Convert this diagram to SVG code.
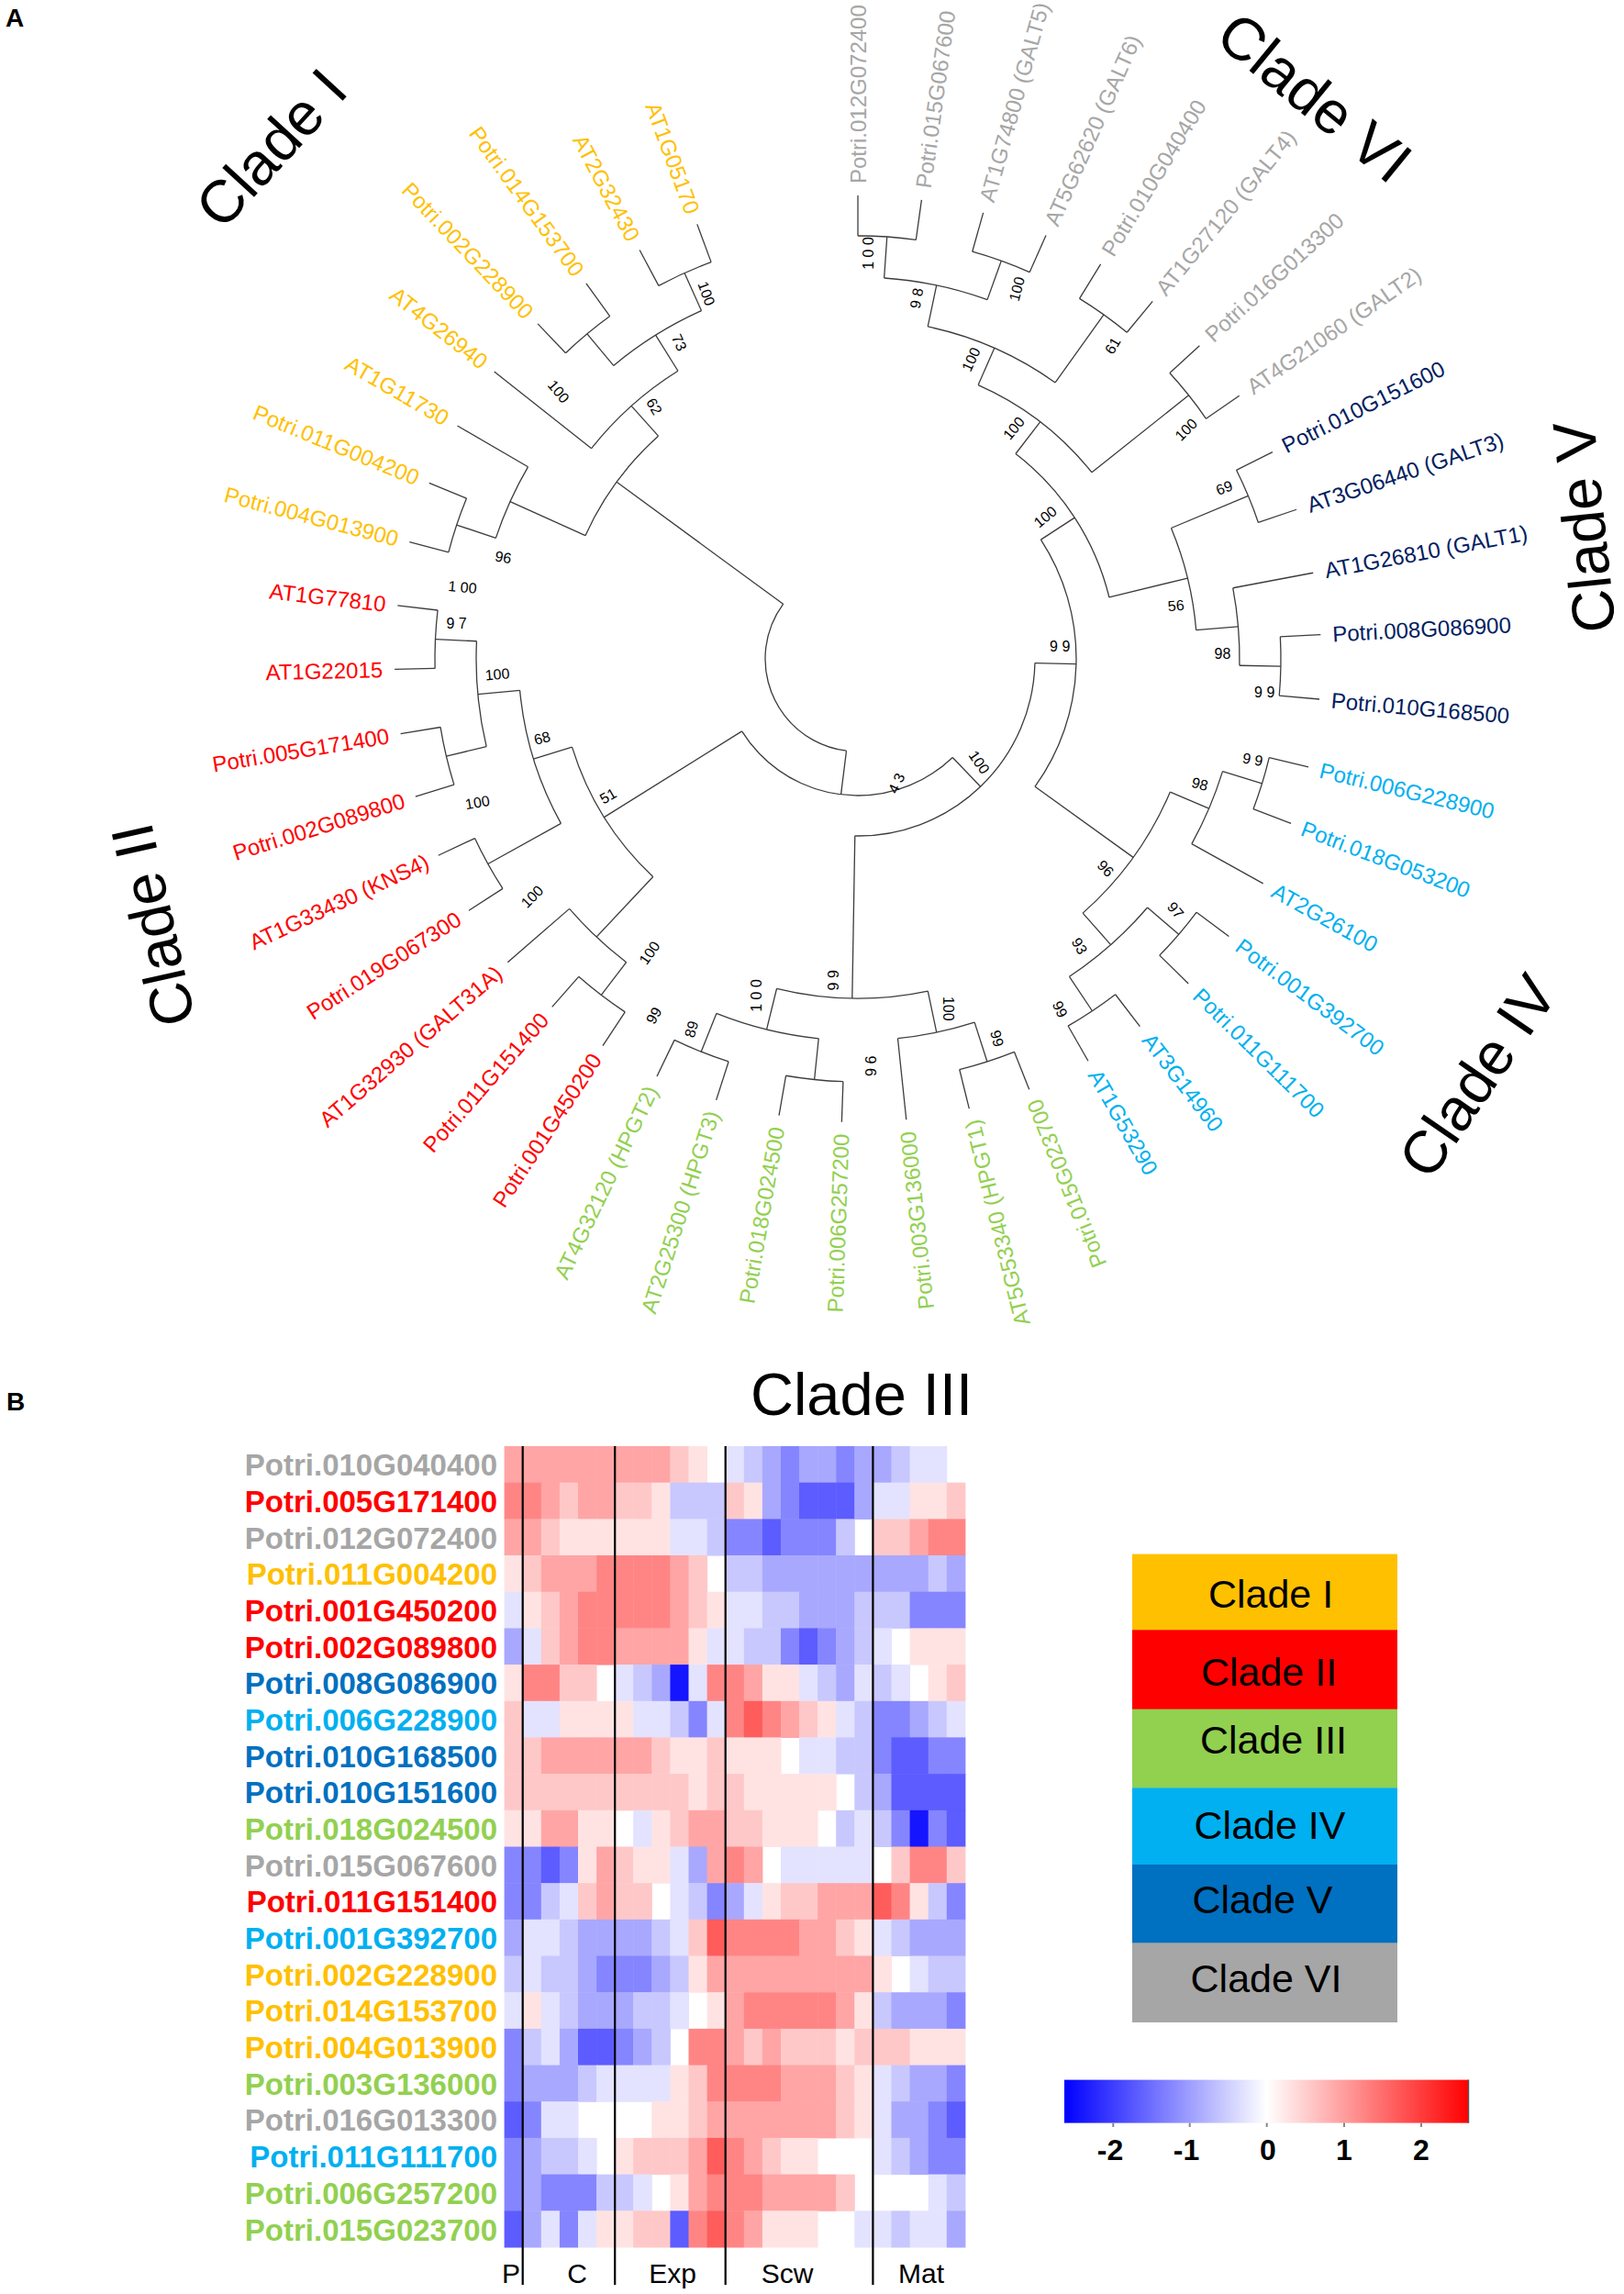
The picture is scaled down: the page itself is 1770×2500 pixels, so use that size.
<svg xmlns="http://www.w3.org/2000/svg" width="1770" height="2500" viewBox="0 0 1770 2500">
<style>
text{font-family:"Liberation Sans",Arial,sans-serif}
.br circle,.br line{fill:none;stroke:#3c3c3c;stroke-width:1.3}
.lf{font-size:24px;dominant-baseline:central}
.le{text-anchor:end}
.bs{font-size:16px;text-anchor:middle;dominant-baseline:central;fill:#000}
.cl{font-size:65px;text-anchor:middle;fill:#000}
.c6{fill:#a6a6a6}.c5{fill:#002060}.c4{fill:#00b0f0}.c3{fill:#92d050}.c2{fill:#ff0000}.c1{fill:#ffc000}.hb{fill:#0070c0}
.hm rect{width:20.6px;height:40.2px}
.p1{fill:#ffe3e3}.p2{fill:#ffc8c8}.p3{fill:#ffa5a5}.p4{fill:#ff8585}.p5{fill:#ff5c5c}
.q1{fill:#e3e3ff}.q2{fill:#c8c8ff}.q3{fill:#a8a8ff}.q4{fill:#8585ff}.q5{fill:#5c5cff}.q6{fill:#1515ff}
.rl{font-size:33px;font-weight:bold;text-anchor:end}
.sep{stroke:#000;stroke-width:2.2}
.gl{font-size:30px;text-anchor:middle}
.lg{font-size:43px;text-anchor:middle;fill:#000}
.tk{font-size:32px;font-weight:bold;text-anchor:middle}
.pl{font-size:28px;font-weight:bold}
</style>
<defs>
<linearGradient id="cbar" x1="0" y1="0" x2="1" y2="0">
<stop offset="0" stop-color="#0000ff"/><stop offset="0.5" stop-color="#ffffff"/><stop offset="1" stop-color="#ff0000"/>
</linearGradient>
</defs>
<rect width="1770" height="2500" fill="#ffffff"/>
<text class="pl" x="6" y="29">A</text>
<text class="pl" x="7" y="1537">B</text>

<g id="branches" class="br" transform="translate(935,718)">
<circle r="101" transform="rotate(97.1)" stroke-dasharray="210.0 4000"/>
<circle r="149" transform="rotate(46.16)" stroke-dasharray="264.9 4000"/>
<circle r="193" transform="rotate(1.35)" stroke-dasharray="301.9 4000"/>
<circle r="238" transform="rotate(-33.08)" stroke-dasharray="286.1 4000"/>
<circle r="282" transform="rotate(-52.42)" stroke-dasharray="190.3 4000"/>
<circle r="326" transform="rotate(-66.28)" stroke-dasharray="157.8 4000"/>
<circle r="370" transform="rotate(-78.11)" stroke-dasharray="152.8 4000"/>
<circle r="416" transform="rotate(-86.05)" stroke-dasharray="115.3 4000"/>
<circle r="461" transform="rotate(-90)" stroke-dasharray="63.6 4000"/>
<circle r="461" transform="rotate(-74.3)" stroke-dasharray="66.4 4000"/>
<circle r="461" transform="rotate(-58.4)" stroke-dasharray="63.6 4000"/>
<circle r="461" transform="rotate(-42.5)" stroke-dasharray="63.6 4000"/>
<circle r="370" transform="rotate(-22.65)" stroke-dasharray="115.0 4000"/>
<circle r="461" transform="rotate(-26.5)" stroke-dasharray="62.0 4000"/>
<circle r="416" transform="rotate(-10.7)" stroke-dasharray="85.0 4000"/>
<circle r="461" transform="rotate(-3)" stroke-dasharray="64.4 4000"/>
<circle r="370" transform="rotate(23.08)" stroke-dasharray="164.2 4000"/>
<circle r="416" transform="rotate(17.15)" stroke-dasharray="86.0 4000"/>
<circle r="461" transform="rotate(13.5)" stroke-dasharray="58.7 4000"/>
<circle r="416" transform="rotate(40.65)" stroke-dasharray="114.0 4000"/>
<circle r="461" transform="rotate(36.8)" stroke-dasharray="62.0 4000"/>
<circle r="461" transform="rotate(52.5)" stroke-dasharray="62.0 4000"/>
<circle r="370" transform="rotate(78.1)" stroke-dasharray="166.2 4000"/>
<circle r="416" transform="rotate(72.2)" stroke-dasharray="85.7 4000"/>
<circle r="461" transform="rotate(68.3)" stroke-dasharray="62.8 4000"/>
<circle r="416" transform="rotate(95.9)" stroke-dasharray="115.1 4000"/>
<circle r="461" transform="rotate(107.8)" stroke-dasharray="63.6 4000"/>
<circle r="461" transform="rotate(92)" stroke-dasharray="62.8 4000"/>
<circle r="326" transform="rotate(133.23)" stroke-dasharray="168.5 4000"/>
<circle r="370" transform="rotate(151)" stroke-dasharray="152.9 4000"/>
<circle r="416" transform="rotate(166.7)" stroke-dasharray="115.8 4000"/>
<circle r="461" transform="rotate(178.7)" stroke-dasharray="63.6 4000"/>
<circle r="461" transform="rotate(162.7)" stroke-dasharray="64.4 4000"/>
<circle r="461" transform="rotate(147.1)" stroke-dasharray="62.8 4000"/>
<circle r="416" transform="rotate(127.35)" stroke-dasharray="85.3 4000"/>
<circle r="461" transform="rotate(123.4)" stroke-dasharray="63.6 4000"/>
<circle r="326" transform="rotate(204.33)" stroke-dasharray="135.5 4000"/>
<circle r="416" transform="rotate(198.45)" stroke-dasharray="85.3 4000"/>
<circle r="461" transform="rotate(194.6)" stroke-dasharray="62.0 4000"/>
<circle r="370" transform="rotate(218.3)" stroke-dasharray="127.2 4000"/>
<circle r="416" transform="rotate(230.2)" stroke-dasharray="113.3 4000"/>
<circle r="461" transform="rotate(226.3)" stroke-dasharray="62.8 4000"/>
<circle r="461" transform="rotate(241.9)" stroke-dasharray="62.8 4000"/>
<line x1="101" x2="149" transform="rotate(97.1)"/>
<line x1="101" x2="326" transform="rotate(216.24)"/>
<line x1="149" x2="326" transform="rotate(148.03)"/>
<line x1="149" x2="193" transform="rotate(46.16)"/>
<line x1="193" x2="238" transform="rotate(1.35)"/>
<line x1="193" x2="370" transform="rotate(90.96)"/>
<line x1="238" x2="282" transform="rotate(-33.08)"/>
<line x1="238" x2="370" transform="rotate(35.79)"/>
<line x1="282" x2="326" transform="rotate(-52.42)"/>
<line x1="282" x2="370" transform="rotate(-13.75)"/>
<line x1="326" x2="370" transform="rotate(-66.28)"/>
<line x1="326" x2="461" transform="rotate(-38.55)"/>
<line x1="370" x2="416" transform="rotate(-78.11)"/>
<line x1="370" x2="461" transform="rotate(-54.45)"/>
<line x1="416" x2="461" transform="rotate(-86.05)"/>
<line x1="416" x2="461" transform="rotate(-70.18)"/>
<line x1="370" x2="461" transform="rotate(-22.65)"/>
<line x1="370" x2="416" transform="rotate(-4.85)"/>
<line x1="416" x2="461" transform="rotate(1)"/>
<line x1="370" x2="416" transform="rotate(23.08)"/>
<line x1="416" x2="461" transform="rotate(17.15)"/>
<line x1="370" x2="416" transform="rotate(48.5)"/>
<line x1="416" x2="461" transform="rotate(40.65)"/>
<line x1="416" x2="461" transform="rotate(56.35)"/>
<line x1="370" x2="416" transform="rotate(78.1)"/>
<line x1="416" x2="461" transform="rotate(72.2)"/>
<line x1="370" x2="416" transform="rotate(103.83)"/>
<line x1="416" x2="461" transform="rotate(111.75)"/>
<line x1="416" x2="461" transform="rotate(95.9)"/>
<line x1="326" x2="370" transform="rotate(162.84)"/>
<line x1="370" x2="416" transform="rotate(174.68)"/>
<line x1="416" x2="461" transform="rotate(182.65)"/>
<line x1="416" x2="461" transform="rotate(166.7)"/>
<line x1="370" x2="461" transform="rotate(151)"/>
<line x1="326" x2="416" transform="rotate(133.23)"/>
<line x1="416" x2="461" transform="rotate(127.35)"/>
<line x1="326" x2="416" transform="rotate(204.33)"/>
<line x1="416" x2="461" transform="rotate(198.45)"/>
<line x1="326" x2="370" transform="rotate(228.15)"/>
<line x1="370" x2="416" transform="rotate(238)"/>
<line x1="416" x2="461" transform="rotate(230.2)"/>
<line x1="416" x2="461" transform="rotate(245.8)"/>
<line x1="461" x2="505" transform="rotate(-90)"/>
<line x1="461" x2="505" transform="rotate(-82.1)"/>
<line x1="461" x2="505" transform="rotate(-74.3)"/>
<line x1="461" x2="505" transform="rotate(-66.05)"/>
<line x1="461" x2="505" transform="rotate(-58.4)"/>
<line x1="461" x2="505" transform="rotate(-50.5)"/>
<line x1="461" x2="505" transform="rotate(-42.5)"/>
<line x1="461" x2="505" transform="rotate(-34.6)"/>
<line x1="461" x2="505" transform="rotate(-26.5)"/>
<line x1="461" x2="505" transform="rotate(-18.8)"/>
<line x1="416" x2="505" transform="rotate(-10.7)"/>
<line x1="461" x2="505" transform="rotate(-3)"/>
<line x1="461" x2="505" transform="rotate(5)"/>
<line x1="461" x2="505" transform="rotate(13.5)"/>
<line x1="461" x2="505" transform="rotate(20.8)"/>
<line x1="416" x2="505" transform="rotate(29)"/>
<line x1="461" x2="505" transform="rotate(36.8)"/>
<line x1="461" x2="505" transform="rotate(44.5)"/>
<line x1="461" x2="505" transform="rotate(52.5)"/>
<line x1="461" x2="505" transform="rotate(60.2)"/>
<line x1="461" x2="505" transform="rotate(68.3)"/>
<line x1="461" x2="505" transform="rotate(76.1)"/>
<line x1="416" x2="505" transform="rotate(84)"/>
<line x1="461" x2="505" transform="rotate(92)"/>
<line x1="461" x2="505" transform="rotate(99.8)"/>
<line x1="461" x2="505" transform="rotate(107.8)"/>
<line x1="461" x2="505" transform="rotate(115.7)"/>
<line x1="461" x2="505" transform="rotate(123.4)"/>
<line x1="461" x2="505" transform="rotate(131.3)"/>
<line x1="416" x2="505" transform="rotate(139.1)"/>
<line x1="461" x2="505" transform="rotate(147.1)"/>
<line x1="461" x2="505" transform="rotate(154.9)"/>
<line x1="461" x2="505" transform="rotate(162.7)"/>
<line x1="461" x2="505" transform="rotate(170.7)"/>
<line x1="461" x2="505" transform="rotate(178.7)"/>
<line x1="461" x2="505" transform="rotate(186.6)"/>
<line x1="461" x2="505" transform="rotate(194.6)"/>
<line x1="461" x2="505" transform="rotate(202.3)"/>
<line x1="416" x2="505" transform="rotate(210.2)"/>
<line x1="370" x2="505" transform="rotate(218.3)"/>
<line x1="461" x2="505" transform="rotate(226.3)"/>
<line x1="461" x2="505" transform="rotate(234.1)"/>
<line x1="461" x2="505" transform="rotate(241.9)"/>
<line x1="461" x2="505" transform="rotate(249.7)"/>
</g>

<g id="leaf-labels" class="lf" transform="translate(935,718)">
<g id="t-Potri.012G072400"><text class="c6" transform="rotate(-90)" x="518">Potri.012G072400</text></g>
<g id="t-Potri.015G067600"><text class="c6" transform="rotate(-82.1)" x="518">Potri.015G067600</text></g>
<g id="t-AT1G74800"><text class="c6" transform="rotate(-74.3)" x="518">AT1G74800 (GALT5)</text></g>
<g id="t-AT5G62620"><text class="c6" transform="rotate(-66.05)" x="518">AT5G62620 (GALT6)</text></g>
<g id="t-Potri.010G040400"><text class="c6" transform="rotate(-58.4)" x="518">Potri.010G040400</text></g>
<g id="t-AT1G27120"><text class="c6" transform="rotate(-50.5)" x="518">AT1G27120 (GALT4)</text></g>
<g id="t-Potri.016G013300"><text class="c6" transform="rotate(-42.5)" x="518">Potri.016G013300</text></g>
<g id="t-AT4G21060"><text class="c6" transform="rotate(-34.6)" x="518">AT4G21060 (GALT2)</text></g>
<g id="t-Potri.010G151600"><text class="c5" transform="rotate(-26.5)" x="518">Potri.010G151600</text></g>
<g id="t-AT3G06440"><text class="c5" transform="rotate(-18.8)" x="518">AT3G06440 (GALT3)</text></g>
<g id="t-AT1G26810"><text class="c5" transform="rotate(-10.7)" x="518">AT1G26810 (GALT1)</text></g>
<g id="t-Potri.008G086900"><text class="c5" transform="rotate(-3)" x="518">Potri.008G086900</text></g>
<g id="t-Potri.010G168500"><text class="c5" transform="rotate(5)" x="518">Potri.010G168500</text></g>
<g id="t-Potri.006G228900"><text class="c4" transform="rotate(13.5)" x="518">Potri.006G228900</text></g>
<g id="t-Potri.018G053200"><text class="c4" transform="rotate(20.8)" x="518">Potri.018G053200</text></g>
<g id="t-AT2G26100"><text class="c4" transform="rotate(29)" x="518">AT2G26100</text></g>
<g id="t-Potri.001G392700"><text class="c4" transform="rotate(36.8)" x="518">Potri.001G392700</text></g>
<g id="t-Potri.011G111700"><text class="c4" transform="rotate(44.5)" x="518">Potri.011G111700</text></g>
<g id="t-AT3G14960"><text class="c4" transform="rotate(52.5)" x="518">AT3G14960</text></g>
<g id="t-AT1G53290"><text class="c4" transform="rotate(60.2)" x="518">AT1G53290</text></g>
<g id="t-Potri.015G023700"><text class="c3 le" transform="rotate(-111.7)" x="-518">Potri.015G023700</text></g>
<g id="t-AT5G53340"><text class="c3 le" transform="rotate(-103.9)" x="-518">AT5G53340 (HPGT1)</text></g>
<g id="t-Potri.003G136000"><text class="c3 le" transform="rotate(-96)" x="-518">Potri.003G136000</text></g>
<g id="t-Potri.006G257200"><text class="c3 le" transform="rotate(-88)" x="-518">Potri.006G257200</text></g>
<g id="t-Potri.018G024500"><text class="c3 le" transform="rotate(-80.2)" x="-518">Potri.018G024500</text></g>
<g id="t-AT2G25300"><text class="c3 le" transform="rotate(-72.2)" x="-518">AT2G25300 (HPGT3)</text></g>
<g id="t-AT4G32120"><text class="c3 le" transform="rotate(-64.3)" x="-518">AT4G32120 (HPGT2)</text></g>
<g id="t-Potri.001G450200"><text class="c2 le" transform="rotate(-56.6)" x="-518">Potri.001G450200</text></g>
<g id="t-Potri.011G151400"><text class="c2 le" transform="rotate(-48.7)" x="-518">Potri.011G151400</text></g>
<g id="t-AT1G32930"><text class="c2 le" transform="rotate(-40.9)" x="-518">AT1G32930 (GALT31A)</text></g>
<g id="t-Potri.019G067300"><text class="c2 le" transform="rotate(-32.9)" x="-518">Potri.019G067300</text></g>
<g id="t-AT1G33430"><text class="c2 le" transform="rotate(-25.1)" x="-518">AT1G33430 (KNS4)</text></g>
<g id="t-Potri.002G089800"><text class="c2 le" transform="rotate(-17.3)" x="-518">Potri.002G089800</text></g>
<g id="t-Potri.005G171400"><text class="c2 le" transform="rotate(-9.3)" x="-518">Potri.005G171400</text></g>
<g id="t-AT1G22015"><text class="c2 le" transform="rotate(-1.3)" x="-518">AT1G22015</text></g>
<g id="t-AT1G77810"><text class="c2 le" transform="rotate(6.6)" x="-518">AT1G77810</text></g>
<g id="t-Potri.004G013900"><text class="c1 le" transform="rotate(14.6)" x="-518">Potri.004G013900</text></g>
<g id="t-Potri.011G004200"><text class="c1 le" transform="rotate(22.3)" x="-518">Potri.011G004200</text></g>
<g id="t-AT1G11730"><text class="c1 le" transform="rotate(30.2)" x="-518">AT1G11730</text></g>
<g id="t-AT4G26940"><text class="c1 le" transform="rotate(38.3)" x="-518">AT4G26940</text></g>
<g id="t-Potri.002G228900"><text class="c1 le" transform="rotate(46.3)" x="-518">Potri.002G228900</text></g>
<g id="t-Potri.014G153700"><text class="c1 le" transform="rotate(54.1)" x="-518">Potri.014G153700</text></g>
<g id="t-AT2G32430"><text class="c1 le" transform="rotate(61.9)" x="-518">AT2G32430</text></g>
<g id="t-AT1G05170"><text class="c1 le" transform="rotate(69.7)" x="-518">AT1G05170</text></g>
</g>

<g id="bootstrap" class="bs">
<text transform="translate(946.8,276) rotate(-90)">1 0 0</text>
<text transform="translate(999,325) rotate(-80)">9 8</text>
<text transform="translate(1108.3,315) rotate(-75)">100</text>
<text transform="translate(1058.3,391.7) rotate(-65)">100</text>
<text transform="translate(1212.7,376.7) rotate(-60)">61</text>
<text transform="translate(1105,466.7) rotate(-50)">100</text>
<text transform="translate(1292.7,468.3) rotate(-45)">100</text>
<text transform="translate(1139.3,563.3) rotate(-40)">100</text>
<text transform="translate(1334.3,531.7) rotate(-20)">69</text>
<text transform="translate(1281.7,660) rotate(-5)">56</text>
<text transform="translate(1332.4,712.5)">98</text>
<text transform="translate(1378.2,754)">9 9</text>
<text transform="translate(1155.2,704.5)">9 9</text>
<text transform="translate(1067.1,830.8) rotate(55)">100</text>
<text transform="translate(977.2,853.7) rotate(-65)">4 3</text>
<text transform="translate(1365.3,827.7) rotate(10)">9 9</text>
<text transform="translate(1307.7,854.5) rotate(15)">98</text>
<text transform="translate(1205,946.5) rotate(45)">96</text>
<text transform="translate(1281.3,992) rotate(50)">97</text>
<text transform="translate(1176.5,1031) rotate(60)">93</text>
<text transform="translate(1155.2,1100) rotate(65)">99</text>
<text transform="translate(908.6,1068.3) rotate(-90)">9 9</text>
<text transform="translate(824.4,1085) rotate(-90)">1 0 0</text>
<text transform="translate(753.6,1121.7) rotate(-75)">89</text>
<text transform="translate(948.8,1161.7) rotate(90)">9 6</text>
<text transform="translate(1033,1099.3) rotate(90)">100</text>
<text transform="translate(1086.5,1131.7) rotate(75)">99</text>
<text transform="translate(712.7,1106.7) rotate(-60)">99</text>
<text transform="translate(708,1038.5) rotate(-55)">100</text>
<text transform="translate(580,977.2) rotate(-45)">100</text>
<text transform="translate(662.8,867.5) rotate(-30)">51</text>
<text transform="translate(520.3,874.6) rotate(-10)">100</text>
<text transform="translate(590.8,804.5) rotate(-15)">68</text>
<text transform="translate(542,734.8) rotate(-5)">100</text>
<text transform="translate(497.6,679.5)">9 7</text>
<text transform="translate(504,640) rotate(5)">1 00</text>
<text transform="translate(548.5,607.4) rotate(10)">96</text>
<text transform="translate(608.7,426.7) rotate(50)">100</text>
<text transform="translate(713,443) rotate(60)">62</text>
<text transform="translate(740.2,373.3) rotate(65)">73</text>
<text transform="translate(770,320) rotate(70)">100</text>
</g>

<g id="clade-titles">
<text class="cl" transform="translate(312,176.8) rotate(-47.4)">Clade I</text>
<text class="cl" transform="translate(188.8,1003.3) rotate(-102.6)">Clade II</text>
<text class="cl" x="939" y="1541.7">Clade III</text>
<text class="cl" transform="translate(1629,1185.5) rotate(-55.6)">Clade IV</text>
<text class="cl" transform="translate(1749,572) rotate(-96)">Clade V</text>
<text class="cl" transform="translate(1418.4,123.4) rotate(39.3)">Clade VI</text>
</g>

<g id="heatmap" class="hm">
<g transform="translate(549.6,1576)"><rect x="0" class="p3"/><rect x="20.1" class="p3"/><rect x="40.2" class="p3"/><rect x="60.3" class="p3"/><rect x="80.4" class="p3"/><rect x="100.5" class="p3"/><rect x="120.5" class="p3"/><rect x="140.6" class="p3"/><rect x="160.7" class="p3"/><rect x="180.8" class="p2"/><rect x="200.9" class="p1"/><rect x="241.1" class="q1"/><rect x="261.2" class="q2"/><rect x="281.3" class="q3"/><rect x="301.4" class="q4"/><rect x="321.4" class="q3"/><rect x="341.5" class="q3"/><rect x="361.6" class="q4"/><rect x="381.7" class="q3"/><rect x="401.8" class="q3"/><rect x="421.9" class="q2"/><rect x="442" class="q1"/><rect x="462.1" class="q1"/></g>
<g transform="translate(549.6,1615.7)"><rect x="0" class="p4"/><rect x="20.1" class="p4"/><rect x="40.2" class="p3"/><rect x="60.3" class="p2"/><rect x="80.4" class="p3"/><rect x="100.5" class="p3"/><rect x="120.5" class="p2"/><rect x="140.6" class="p2"/><rect x="160.7" class="p1"/><rect x="180.8" class="q2"/><rect x="200.9" class="q2"/><rect x="221" class="q2"/><rect x="241.1" class="p2"/><rect x="261.2" class="p1"/><rect x="281.3" class="q3"/><rect x="301.4" class="q4"/><rect x="321.4" class="q5"/><rect x="341.5" class="q5"/><rect x="361.6" class="q5"/><rect x="381.7" class="q3"/><rect x="401.8" class="q1"/><rect x="421.9" class="q1"/><rect x="442" class="p1"/><rect x="462.1" class="p1"/><rect x="482.2" class="p2"/></g>
<g transform="translate(549.6,1655.4)"><rect x="0" class="p3"/><rect x="20.1" class="p3"/><rect x="40.2" class="p2"/><rect x="60.3" class="p1"/><rect x="80.4" class="p1"/><rect x="100.5" class="p1"/><rect x="120.5" class="p1"/><rect x="140.6" class="p1"/><rect x="160.7" class="p1"/><rect x="180.8" class="q1"/><rect x="200.9" class="q1"/><rect x="221" class="q2"/><rect x="241.1" class="q4"/><rect x="261.2" class="q4"/><rect x="281.3" class="q5"/><rect x="301.4" class="q4"/><rect x="321.4" class="q4"/><rect x="341.5" class="q4"/><rect x="361.6" class="q2"/><rect x="401.8" class="p2"/><rect x="421.9" class="p2"/><rect x="442" class="p3"/><rect x="462.1" class="p4"/><rect x="482.2" class="p4"/></g>
<g transform="translate(549.6,1695)"><rect x="0" class="p1"/><rect x="20.1" class="p2"/><rect x="40.2" class="p3"/><rect x="60.3" class="p3"/><rect x="80.4" class="p3"/><rect x="100.5" class="p4"/><rect x="120.5" class="p4"/><rect x="140.6" class="p4"/><rect x="160.7" class="p4"/><rect x="180.8" class="p3"/><rect x="200.9" class="p2"/><rect x="241.1" class="q2"/><rect x="261.2" class="q2"/><rect x="281.3" class="q3"/><rect x="301.4" class="q3"/><rect x="321.4" class="q3"/><rect x="341.5" class="q3"/><rect x="361.6" class="q3"/><rect x="381.7" class="q3"/><rect x="401.8" class="q3"/><rect x="421.9" class="q3"/><rect x="442" class="q3"/><rect x="462.1" class="q2"/><rect x="482.2" class="q3"/></g>
<g transform="translate(549.6,1734.7)"><rect x="0" class="q1"/><rect x="20.1" class="p1"/><rect x="40.2" class="p2"/><rect x="60.3" class="p3"/><rect x="80.4" class="p4"/><rect x="100.5" class="p4"/><rect x="120.5" class="p4"/><rect x="140.6" class="p4"/><rect x="160.7" class="p4"/><rect x="180.8" class="p3"/><rect x="200.9" class="p2"/><rect x="221" class="p1"/><rect x="241.1" class="q1"/><rect x="261.2" class="q1"/><rect x="281.3" class="q2"/><rect x="301.4" class="q2"/><rect x="321.4" class="q3"/><rect x="341.5" class="q3"/><rect x="361.6" class="q3"/><rect x="381.7" class="q2"/><rect x="401.8" class="q2"/><rect x="421.9" class="q2"/><rect x="442" class="q4"/><rect x="462.1" class="q4"/><rect x="482.2" class="q4"/></g>
<g transform="translate(549.6,1774.4)"><rect x="0" class="q3"/><rect x="20.1" class="q1"/><rect x="40.2" class="p2"/><rect x="60.3" class="p3"/><rect x="80.4" class="p4"/><rect x="100.5" class="p4"/><rect x="120.5" class="p3"/><rect x="140.6" class="p3"/><rect x="160.7" class="p3"/><rect x="180.8" class="p3"/><rect x="200.9" class="p1"/><rect x="221" class="q1"/><rect x="241.1" class="q1"/><rect x="261.2" class="q2"/><rect x="281.3" class="q2"/><rect x="301.4" class="q4"/><rect x="321.4" class="q5"/><rect x="341.5" class="q4"/><rect x="361.6" class="q3"/><rect x="381.7" class="q2"/><rect x="401.8" class="q1"/><rect x="442" class="p1"/><rect x="462.1" class="p1"/><rect x="482.2" class="p1"/></g>
<g transform="translate(549.6,1814.1)"><rect x="0" class="p1"/><rect x="20.1" class="p4"/><rect x="40.2" class="p4"/><rect x="60.3" class="p2"/><rect x="80.4" class="p2"/><rect x="120.5" class="q1"/><rect x="140.6" class="q2"/><rect x="160.7" class="q3"/><rect x="180.8" class="q6"/><rect x="200.9" class="q1"/><rect x="221" class="p4"/><rect x="241.1" class="p4"/><rect x="261.2" class="p3"/><rect x="281.3" class="p1"/><rect x="301.4" class="p1"/><rect x="321.4" class="q1"/><rect x="341.5" class="q2"/><rect x="361.6" class="q3"/><rect x="381.7" class="q1"/><rect x="401.8" class="q2"/><rect x="421.9" class="q1"/><rect x="462.1" class="p1"/><rect x="482.2" class="p2"/></g>
<g transform="translate(549.6,1853.8)"><rect x="0" class="p2"/><rect x="20.1" class="q1"/><rect x="40.2" class="q1"/><rect x="60.3" class="p1"/><rect x="80.4" class="p1"/><rect x="100.5" class="p1"/><rect x="120.5" class="p1"/><rect x="140.6" class="q1"/><rect x="160.7" class="q1"/><rect x="180.8" class="q2"/><rect x="200.9" class="q4"/><rect x="221" class="q1"/><rect x="241.1" class="p4"/><rect x="261.2" class="p5"/><rect x="281.3" class="p4"/><rect x="301.4" class="p3"/><rect x="321.4" class="p2"/><rect x="341.5" class="p1"/><rect x="361.6" class="q1"/><rect x="381.7" class="q2"/><rect x="401.8" class="q4"/><rect x="421.9" class="q4"/><rect x="442" class="q3"/><rect x="462.1" class="q2"/><rect x="482.2" class="q1"/></g>
<g transform="translate(549.6,1893.4)"><rect x="0" class="p2"/><rect x="20.1" class="p2"/><rect x="40.2" class="p3"/><rect x="60.3" class="p3"/><rect x="80.4" class="p3"/><rect x="100.5" class="p3"/><rect x="120.5" class="p3"/><rect x="140.6" class="p3"/><rect x="160.7" class="p2"/><rect x="180.8" class="p1"/><rect x="200.9" class="p1"/><rect x="221" class="p2"/><rect x="241.1" class="p1"/><rect x="261.2" class="p1"/><rect x="281.3" class="p1"/><rect x="321.4" class="q1"/><rect x="341.5" class="q1"/><rect x="361.6" class="q2"/><rect x="381.7" class="q2"/><rect x="401.8" class="q4"/><rect x="421.9" class="q5"/><rect x="442" class="q5"/><rect x="462.1" class="q4"/><rect x="482.2" class="q4"/></g>
<g transform="translate(549.6,1933.1)"><rect x="0" class="p2"/><rect x="20.1" class="p2"/><rect x="40.2" class="p2"/><rect x="60.3" class="p2"/><rect x="80.4" class="p2"/><rect x="100.5" class="p2"/><rect x="120.5" class="p2"/><rect x="140.6" class="p2"/><rect x="160.7" class="p2"/><rect x="180.8" class="p2"/><rect x="200.9" class="p1"/><rect x="221" class="p2"/><rect x="241.1" class="p2"/><rect x="261.2" class="p1"/><rect x="281.3" class="p1"/><rect x="301.4" class="p1"/><rect x="321.4" class="p1"/><rect x="341.5" class="p1"/><rect x="381.7" class="q2"/><rect x="401.8" class="q3"/><rect x="421.9" class="q5"/><rect x="442" class="q5"/><rect x="462.1" class="q5"/><rect x="482.2" class="q5"/></g>
<g transform="translate(549.6,1972.8)"><rect x="0" class="p1"/><rect x="20.1" class="p1"/><rect x="40.2" class="p3"/><rect x="60.3" class="p3"/><rect x="80.4" class="p1"/><rect x="100.5" class="p1"/><rect x="140.6" class="q1"/><rect x="160.7" class="p1"/><rect x="180.8" class="p2"/><rect x="200.9" class="p3"/><rect x="221" class="p3"/><rect x="241.1" class="p2"/><rect x="261.2" class="p2"/><rect x="281.3" class="p1"/><rect x="301.4" class="p1"/><rect x="321.4" class="p1"/><rect x="361.6" class="q2"/><rect x="381.7" class="q1"/><rect x="401.8" class="q2"/><rect x="421.9" class="q4"/><rect x="442" class="q6"/><rect x="462.1" class="q4"/><rect x="482.2" class="q5"/></g>
<g transform="translate(549.6,2012.5)"><rect x="0" class="q4"/><rect x="20.1" class="q4"/><rect x="40.2" class="q5"/><rect x="60.3" class="q4"/><rect x="80.4" class="p1"/><rect x="100.5" class="p3"/><rect x="120.5" class="p2"/><rect x="140.6" class="p1"/><rect x="160.7" class="p1"/><rect x="180.8" class="q1"/><rect x="200.9" class="q3"/><rect x="221" class="p3"/><rect x="241.1" class="p4"/><rect x="261.2" class="p3"/><rect x="301.4" class="q1"/><rect x="321.4" class="q1"/><rect x="341.5" class="q1"/><rect x="361.6" class="q1"/><rect x="381.7" class="q1"/><rect x="421.9" class="p2"/><rect x="442" class="p4"/><rect x="462.1" class="p4"/><rect x="482.2" class="p2"/></g>
<g transform="translate(549.6,2052.2)"><rect x="0" class="q4"/><rect x="20.1" class="q4"/><rect x="40.2" class="q2"/><rect x="60.3" class="q1"/><rect x="80.4" class="p2"/><rect x="100.5" class="p3"/><rect x="120.5" class="p2"/><rect x="140.6" class="p2"/><rect x="180.8" class="q1"/><rect x="200.9" class="q2"/><rect x="221" class="q4"/><rect x="241.1" class="q3"/><rect x="261.2" class="q1"/><rect x="281.3" class="p1"/><rect x="301.4" class="p2"/><rect x="321.4" class="p2"/><rect x="341.5" class="p3"/><rect x="361.6" class="p3"/><rect x="381.7" class="p3"/><rect x="401.8" class="p5"/><rect x="421.9" class="p4"/><rect x="442" class="p1"/><rect x="462.1" class="q2"/><rect x="482.2" class="q4"/></g>
<g transform="translate(549.6,2091.8)"><rect x="0" class="q3"/><rect x="20.1" class="q1"/><rect x="40.2" class="q1"/><rect x="60.3" class="q2"/><rect x="80.4" class="q3"/><rect x="100.5" class="q3"/><rect x="120.5" class="q3"/><rect x="140.6" class="q3"/><rect x="160.7" class="q2"/><rect x="180.8" class="q1"/><rect x="200.9" class="p2"/><rect x="221" class="p5"/><rect x="241.1" class="p4"/><rect x="261.2" class="p4"/><rect x="281.3" class="p4"/><rect x="301.4" class="p4"/><rect x="321.4" class="p3"/><rect x="341.5" class="p3"/><rect x="361.6" class="p2"/><rect x="381.7" class="p1"/><rect x="401.8" class="q1"/><rect x="421.9" class="q2"/><rect x="442" class="q3"/><rect x="462.1" class="q3"/><rect x="482.2" class="q3"/></g>
<g transform="translate(549.6,2131.5)"><rect x="0" class="q2"/><rect x="20.1" class="q1"/><rect x="40.2" class="q2"/><rect x="60.3" class="q2"/><rect x="80.4" class="q3"/><rect x="100.5" class="q4"/><rect x="120.5" class="q4"/><rect x="140.6" class="q4"/><rect x="160.7" class="q3"/><rect x="180.8" class="q2"/><rect x="200.9" class="p1"/><rect x="221" class="p3"/><rect x="241.1" class="p3"/><rect x="261.2" class="p3"/><rect x="281.3" class="p3"/><rect x="301.4" class="p3"/><rect x="321.4" class="p3"/><rect x="341.5" class="p3"/><rect x="361.6" class="p3"/><rect x="381.7" class="p3"/><rect x="401.8" class="p1"/><rect x="442" class="q1"/><rect x="462.1" class="q2"/><rect x="482.2" class="q2"/></g>
<g transform="translate(549.6,2171.2)"><rect x="0" class="q1"/><rect x="20.1" class="p1"/><rect x="40.2" class="q1"/><rect x="60.3" class="q2"/><rect x="80.4" class="q3"/><rect x="100.5" class="q3"/><rect x="120.5" class="q3"/><rect x="140.6" class="q2"/><rect x="160.7" class="q2"/><rect x="180.8" class="q1"/><rect x="221" class="p1"/><rect x="241.1" class="p3"/><rect x="261.2" class="p4"/><rect x="281.3" class="p4"/><rect x="301.4" class="p4"/><rect x="321.4" class="p4"/><rect x="341.5" class="p4"/><rect x="361.6" class="p3"/><rect x="381.7" class="p1"/><rect x="401.8" class="q2"/><rect x="421.9" class="q3"/><rect x="442" class="q3"/><rect x="462.1" class="q3"/><rect x="482.2" class="q4"/></g>
<g transform="translate(549.6,2210.9)"><rect x="0" class="q4"/><rect x="20.1" class="q2"/><rect x="40.2" class="q1"/><rect x="60.3" class="q3"/><rect x="80.4" class="q5"/><rect x="100.5" class="q5"/><rect x="120.5" class="q4"/><rect x="140.6" class="q3"/><rect x="160.7" class="q2"/><rect x="200.9" class="p4"/><rect x="221" class="p4"/><rect x="241.1" class="p3"/><rect x="261.2" class="p2"/><rect x="281.3" class="p3"/><rect x="301.4" class="p2"/><rect x="321.4" class="p2"/><rect x="341.5" class="p2"/><rect x="361.6" class="p1"/><rect x="381.7" class="p2"/><rect x="401.8" class="p2"/><rect x="421.9" class="p2"/><rect x="442" class="p1"/><rect x="462.1" class="p1"/><rect x="482.2" class="p1"/></g>
<g transform="translate(549.6,2250.6)"><rect x="0" class="q4"/><rect x="20.1" class="q3"/><rect x="40.2" class="q3"/><rect x="60.3" class="q3"/><rect x="80.4" class="q2"/><rect x="100.5" class="q1"/><rect x="120.5" class="q1"/><rect x="140.6" class="q1"/><rect x="160.7" class="q1"/><rect x="180.8" class="p1"/><rect x="200.9" class="p2"/><rect x="221" class="p4"/><rect x="241.1" class="p4"/><rect x="261.2" class="p4"/><rect x="281.3" class="p4"/><rect x="301.4" class="p3"/><rect x="321.4" class="p3"/><rect x="341.5" class="p3"/><rect x="361.6" class="p2"/><rect x="381.7" class="p1"/><rect x="401.8" class="q1"/><rect x="421.9" class="q2"/><rect x="442" class="q3"/><rect x="462.1" class="q3"/><rect x="482.2" class="q4"/></g>
<g transform="translate(549.6,2290.2)"><rect x="0" class="q5"/><rect x="20.1" class="q4"/><rect x="40.2" class="q1"/><rect x="60.3" class="q1"/><rect x="160.7" class="p1"/><rect x="180.8" class="p1"/><rect x="200.9" class="p2"/><rect x="221" class="p3"/><rect x="241.1" class="p3"/><rect x="261.2" class="p3"/><rect x="281.3" class="p3"/><rect x="301.4" class="p3"/><rect x="321.4" class="p3"/><rect x="341.5" class="p3"/><rect x="361.6" class="p2"/><rect x="381.7" class="p1"/><rect x="401.8" class="q1"/><rect x="421.9" class="q3"/><rect x="442" class="q3"/><rect x="462.1" class="q4"/><rect x="482.2" class="q5"/></g>
<g transform="translate(549.6,2329.9)"><rect x="0" class="q4"/><rect x="20.1" class="q3"/><rect x="40.2" class="q2"/><rect x="60.3" class="q2"/><rect x="80.4" class="q1"/><rect x="120.5" class="p1"/><rect x="140.6" class="p2"/><rect x="160.7" class="p2"/><rect x="180.8" class="p2"/><rect x="200.9" class="p3"/><rect x="221" class="p5"/><rect x="241.1" class="p4"/><rect x="261.2" class="p3"/><rect x="281.3" class="p2"/><rect x="301.4" class="p1"/><rect x="321.4" class="p1"/><rect x="401.8" class="q1"/><rect x="421.9" class="q2"/><rect x="442" class="q3"/><rect x="462.1" class="q4"/><rect x="482.2" class="q4"/></g>
<g transform="translate(549.6,2369.6)"><rect x="0" class="q4"/><rect x="20.1" class="q3"/><rect x="40.2" class="q4"/><rect x="60.3" class="q4"/><rect x="80.4" class="q4"/><rect x="100.5" class="q2"/><rect x="120.5" class="q2"/><rect x="140.6" class="q1"/><rect x="180.8" class="p1"/><rect x="200.9" class="p3"/><rect x="221" class="p4"/><rect x="241.1" class="p4"/><rect x="261.2" class="p4"/><rect x="281.3" class="p3"/><rect x="301.4" class="p3"/><rect x="321.4" class="p3"/><rect x="341.5" class="p3"/><rect x="361.6" class="p2"/><rect x="462.1" class="q1"/><rect x="482.2" class="q2"/></g>
<g transform="translate(549.6,2409.3)"><rect x="0" class="q5"/><rect x="20.1" class="q3"/><rect x="40.2" class="q1"/><rect x="60.3" class="q4"/><rect x="80.4" class="q1"/><rect x="100.5" class="p1"/><rect x="120.5" class="p1"/><rect x="140.6" class="p2"/><rect x="160.7" class="p2"/><rect x="180.8" class="q5"/><rect x="200.9" class="p4"/><rect x="221" class="p5"/><rect x="241.1" class="p4"/><rect x="261.2" class="p3"/><rect x="281.3" class="p1"/><rect x="301.4" class="p1"/><rect x="321.4" class="p1"/><rect x="381.7" class="q1"/><rect x="401.8" class="q1"/><rect x="421.9" class="q2"/><rect x="442" class="q1"/><rect x="462.1" class="q1"/><rect x="482.2" class="q3"/></g>
</g>

<g id="heatmap-separators" class="sep">
<line x1="569.7" y1="1576" x2="569.7" y2="2490"/>
<line x1="670.2" y1="1576" x2="670.2" y2="2490"/>
<line x1="790.7" y1="1576" x2="790.7" y2="2490"/>
<line x1="951.4" y1="1576" x2="951.4" y2="2490"/>
</g>

<g id="heatmap-rows" class="rl">
<g id="h-Potri.010G040400"><text class="c6" x="542" y="1608.2">Potri.010G040400</text></g>
<g id="h-Potri.005G171400"><text class="c2" x="542" y="1647.9">Potri.005G171400</text></g>
<g id="h-Potri.012G072400"><text class="c6" x="542" y="1687.6">Potri.012G072400</text></g>
<g id="h-Potri.011G004200"><text class="c1" x="542" y="1727.2">Potri.011G004200</text></g>
<g id="h-Potri.001G450200"><text class="c2" x="542" y="1766.9">Potri.001G450200</text></g>
<g id="h-Potri.002G089800"><text class="c2" x="542" y="1806.6">Potri.002G089800</text></g>
<g id="h-Potri.008G086900"><text class="hb" x="542" y="1846.3">Potri.008G086900</text></g>
<g id="h-Potri.006G228900"><text class="c4" x="542" y="1886">Potri.006G228900</text></g>
<g id="h-Potri.010G168500"><text class="hb" x="542" y="1925.6">Potri.010G168500</text></g>
<g id="h-Potri.010G151600"><text class="hb" x="542" y="1965.3">Potri.010G151600</text></g>
<g id="h-Potri.018G024500"><text class="c3" x="542" y="2005">Potri.018G024500</text></g>
<g id="h-Potri.015G067600"><text class="c6" x="542" y="2044.7">Potri.015G067600</text></g>
<g id="h-Potri.011G151400"><text class="c2" x="542" y="2084.4">Potri.011G151400</text></g>
<g id="h-Potri.001G392700"><text class="c4" x="542" y="2124">Potri.001G392700</text></g>
<g id="h-Potri.002G228900"><text class="c1" x="542" y="2163.7">Potri.002G228900</text></g>
<g id="h-Potri.014G153700"><text class="c1" x="542" y="2203.4">Potri.014G153700</text></g>
<g id="h-Potri.004G013900"><text class="c1" x="542" y="2243.1">Potri.004G013900</text></g>
<g id="h-Potri.003G136000"><text class="c3" x="542" y="2282.8">Potri.003G136000</text></g>
<g id="h-Potri.016G013300"><text class="c6" x="542" y="2322.4">Potri.016G013300</text></g>
<g id="h-Potri.011G111700"><text class="c4" x="542" y="2362.1">Potri.011G111700</text></g>
<g id="h-Potri.006G257200"><text class="c3" x="542" y="2401.8">Potri.006G257200</text></g>
<g id="h-Potri.015G023700"><text class="c3" x="542" y="2441.5">Potri.015G023700</text></g>
</g>

<g id="stage-labels" class="gl">
<text x="557" y="2488">P</text>
<text x="629" y="2488">C</text>
<text x="733" y="2488">Exp</text>
<text x="858" y="2488">Scw</text>
<text x="1004" y="2488">Mat</text>
</g>

<g id="legend">
<g id="lg-1"><rect x="1234" y="1693.6" width="289" height="83.2" fill="#ffc000"/><text class="lg" x="1385" y="1752">Clade I</text></g>
<g id="lg-2"><rect x="1234" y="1776.3" width="289" height="86.8" fill="#ff0000"/><text class="lg" x="1383" y="1837">Clade II</text></g>
<g id="lg-3"><rect x="1234" y="1862.6" width="289" height="86.2" fill="#92d050"/><text class="lg" x="1388" y="1911">Clade III</text></g>
<g id="lg-4"><rect x="1234" y="1948.4" width="289" height="84" fill="#00b0f0"/><text class="lg" x="1384" y="2003.5">Clade IV</text></g>
<g id="lg-5"><rect x="1234" y="2032" width="289" height="85.8" fill="#0070c0"/><text class="lg" x="1376" y="2085">Clade V</text></g>
<g id="lg-6"><rect x="1234" y="2117.4" width="289" height="86.6" fill="#a6a6a6"/><text class="lg" x="1380" y="2171">Clade VI</text></g>
</g>

<g id="colorbar">
<rect x="1160" y="2266.6" width="441" height="47" fill="url(#cbar)"/>
<line x1="1600.5" y1="2266.6" x2="1600.5" y2="2313.6" stroke="#555" stroke-width="1.5"/>
<g stroke="#888" stroke-width="2">
<line x1="1213.3" y1="2313.6" x2="1213.3" y2="2318"/>
<line x1="1296.7" y1="2313.6" x2="1296.7" y2="2318"/>
<line x1="1380.7" y1="2313.6" x2="1380.7" y2="2318"/>
<line x1="1465" y1="2313.6" x2="1465" y2="2318"/>
<line x1="1549" y1="2313.6" x2="1549" y2="2318"/>
</g>
<text class="tk" x="1210" y="2354">-2</text>
<text class="tk" x="1293" y="2354">-1</text>
<text class="tk" x="1382" y="2354">0</text>
<text class="tk" x="1465" y="2354">1</text>
<text class="tk" x="1549" y="2354">2</text>
</g>
</svg>
